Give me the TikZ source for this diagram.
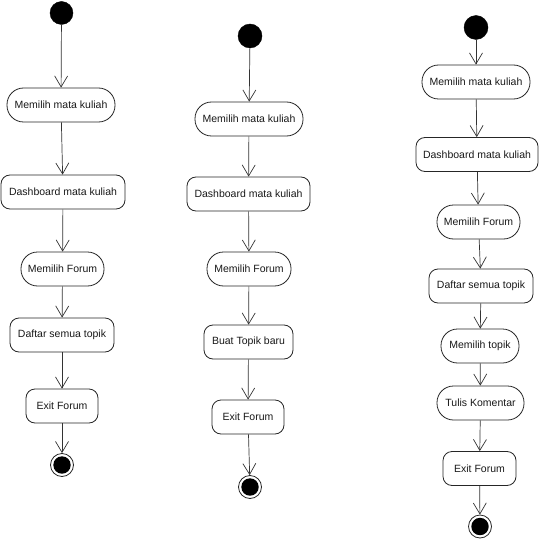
\documentclass[tikz,border=0pt]{standalone}
\usepackage{fontspec}
\setmainfont{Liberation Sans}
\usetikzlibrary{arrows.meta}
\begin{document}
\begin{tikzpicture}[x=1pt,y=-1pt,
  every node/.style={font=\fontsize{10.5}{12}\selectfont, text=black!90},
  act/.style={draw=black!85, line width=0.8pt, fill=white, rectangle,
    rounded corners=9pt, minimum height=34pt, inner sep=0pt},
  pill/.style={act, rounded corners=16.5pt},
  initnode/.style={circle, fill=black, draw=black, minimum size=#1, inner sep=0pt},
  finalnode/.style={circle, draw=black!85, line width=0.8pt, fill=white,
    minimum size=23pt, inner sep=0pt,
    path picture={\fill[black] (path picture bounding box.center) circle (8.7pt);}},
  flow/.style={draw=black!80, line width=0.7pt, -{Straight Barb[length=11pt,width=13pt,line width=0.7pt]}}
]
\useasboundingbox (0,0) rectangle (540,540);

% first flow: browsing the topic list
\node[initnode=23pt] (s1) at (61.5,13) {};
\node[pill, minimum width=108pt] (a1) at (61,105) {Memilih mata kuliah};
\node[act,  minimum width=124pt] (a2) at (63,192) {Dashboard mata kuliah};
\node[pill, minimum width=83pt]  (a3) at (62.5,269) {Memilih Forum};
\node[act,  minimum width=104pt] (a4) at (62,335) {Daftar semua topik};
\node[act,  minimum width=72pt]  (a5) at (62,406) {Exit Forum};
\node[finalnode] (f1) at (62,465) {};
\draw[flow] (s1) -- (a1);
\draw[flow] (a1) -- (a2);
\draw[flow] (a2) -- (a3);
\draw[flow] (a3) -- (a4);
\draw[flow] (a4) -- (a5);
\draw[flow] (a5) -- (f1);

% second flow: creating a new topic
\node[initnode=24pt] (s2) at (250,36) {};
\node[pill, minimum width=108pt] (b1) at (249,119) {Memilih mata kuliah};
\node[act,  minimum width=123pt] (b2) at (248.5,194) {Dashboard mata kuliah};
\node[pill, minimum width=84pt]  (b3) at (249,269) {Memilih Forum};
\node[act,  minimum width=89pt]  (b4) at (248.5,342) {Buat Topik baru};
\node[act,  minimum width=72pt]  (b5) at (248,417) {Exit Forum};
\node[finalnode] (f2) at (250,487) {};
\draw[flow] (s2) -- (b1);
\draw[flow] (b1) -- (b2);
\draw[flow] (b2) -- (b3);
\draw[flow] (b3) -- (b4);
\draw[flow] (b4) -- (b5);
\draw[flow] (b5) -- (f2);

% third flow: commenting on a topic
\node[initnode=24pt] (s3) at (476,27.5) {};
\node[pill, minimum width=108pt] (c1) at (476,82) {Memilih mata kuliah};
\node[act,  minimum width=122pt] (c2) at (477,154.5) {Dashboard mata kuliah};
\node[pill, minimum width=83pt]  (c3) at (478.5,222) {Memilih Forum};
\node[act,  minimum width=104pt] (c4) at (481,286) {Daftar semua topik};
\node[pill, minimum width=78pt]  (c5) at (480,346) {Memilih topik};
\node[pill, minimum width=87pt]  (c6) at (480.5,403) {Tulis Komentar};
\node[act,  minimum width=73pt]  (c7) at (479.5,468.5) {Exit Forum};
\node[finalnode] (f3) at (480,526.5) {};
\draw[flow] (s3) -- (c1);
\draw[flow] (c1) -- (c2);
\draw[flow] (c2) -- (c3);
\draw[flow] (c3) -- (c4);
\draw[flow] (c4) -- (c5);
\draw[flow] (c5) -- (c6);
\draw[flow] (c6) -- (c7);
\draw[flow] (c7) -- (f3);
\end{tikzpicture}
\end{document}
